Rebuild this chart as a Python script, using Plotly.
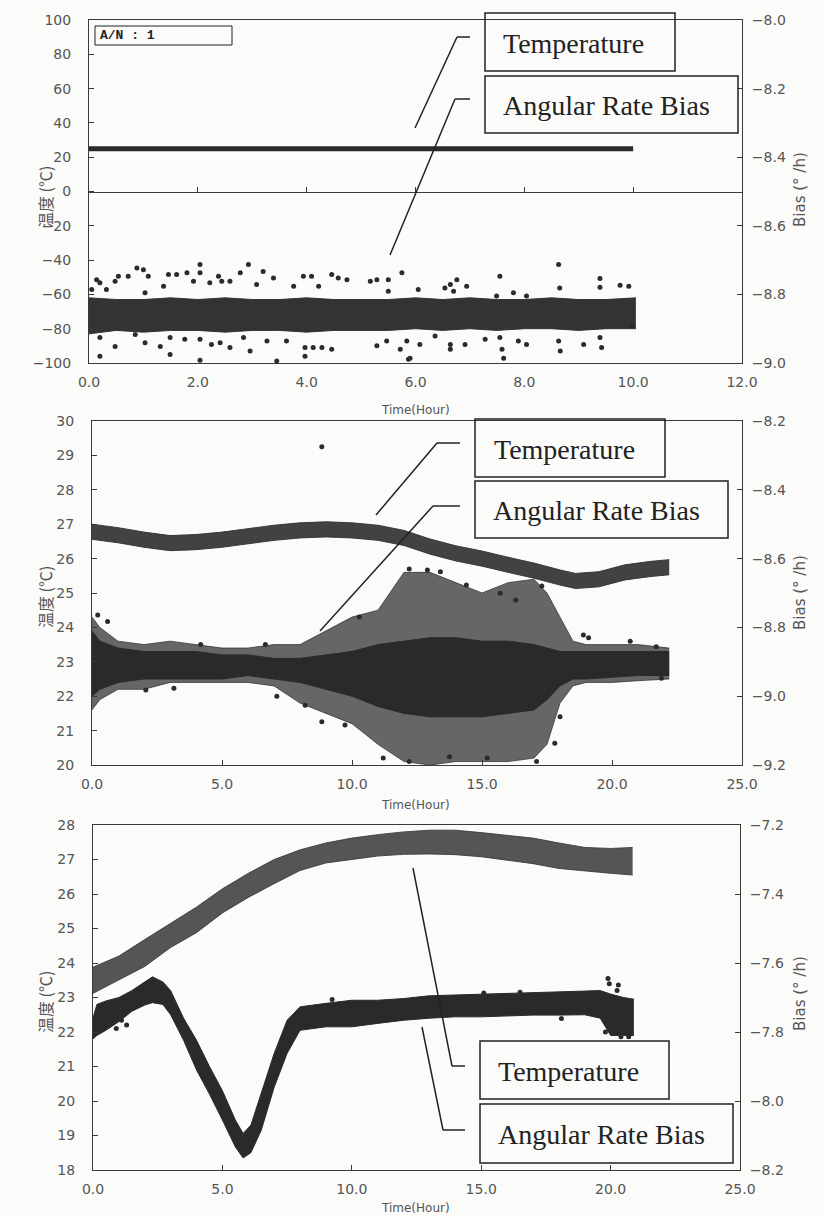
import plotly.graph_objects as go

W, H = 823, 1216

# ---------------- Panel 1 data ----------------
p1_temp_t = [0.0, 2.0, 4.0, 6.0, 8.0, 10.0]
p1_temp = [24.9, 24.9, 24.9, 24.9, 24.9, 24.9]

p1_band_t = [0, 0.5, 1, 1.5, 2, 2.5, 3, 3.5, 4, 4.5, 5, 5.5, 6, 6.5, 7, 7.5, 8, 8.5, 9, 9.5, 10.05]
p1_band_hi = [-8.81, -8.815, -8.815, -8.81, -8.815, -8.81, -8.815, -8.815, -8.81, -8.815, -8.815,
              -8.815, -8.81, -8.815, -8.81, -8.815, -8.815, -8.81, -8.815, -8.815, -8.81]
p1_band_lo = [-8.915, -8.905, -8.91, -8.905, -8.905, -8.91, -8.905, -8.905, -8.91, -8.905, -8.905,
              -8.905, -8.9, -8.905, -8.9, -8.905, -8.9, -8.9, -8.905, -8.9, -8.9]
p1_out_t = [0.05, 0.14, 0.2, 0.32, 0.48, 0.54, 0.72, 0.88, 1.0, 1.09, 1.03, 1.37, 1.46, 1.61, 1.8, 1.92,
            2.04, 2.04, 2.22, 2.38, 2.44, 2.59, 2.78, 2.93, 3.08, 3.2, 3.39, 3.76, 3.94, 4.09, 4.22,
            4.46, 4.58, 4.74, 5.17, 5.29, 5.5, 5.75, 5.5,
            0.2, 0.2, 0.48, 0.85, 1.03, 1.31, 1.49, 1.49, 1.76, 2.04, 2.04, 2.25, 2.41, 2.59, 2.84,
            2.96, 3.27, 3.45, 3.63, 3.97, 3.97, 4.12, 4.28, 4.46, 5.29, 5.47, 5.72, 5.87,
            6.05, 6.54, 6.64, 6.76, 6.7, 6.94, 7.55, 7.49, 7.8, 8.04, 8.63, 8.65, 9.39, 9.39, 9.76, 9.92,
            5.84, 6.08, 5.9, 6.36, 6.64, 6.64, 6.91, 7.28, 7.55, 7.59, 7.62, 7.89, 8.04, 8.63, 8.66,
            9.09, 9.39, 9.42, 9.98]
p1_out_b = [-8.786, -8.757, -8.766, -8.786, -8.762, -8.747, -8.747, -8.723, -8.728, -8.747, -8.795,
            -8.776, -8.742, -8.742, -8.737, -8.762, -8.737, -8.713, -8.766, -8.747, -8.762, -8.762,
            -8.737, -8.713, -8.771, -8.733, -8.752, -8.776, -8.747, -8.747, -8.776, -8.742, -8.752,
            -8.757, -8.762, -8.757, -8.757, -8.737, -8.791,
            -8.926, -8.980, -8.952, -8.917, -8.941, -8.952, -8.926, -8.975, -8.931, -8.992, -8.931,
            -8.946, -8.941, -8.955, -8.926, -8.965, -8.936, -8.994, -8.936, -8.955, -8.980, -8.955,
            -8.955, -8.960, -8.950, -8.936, -8.960, -8.989,
            -8.786, -8.781, -8.771, -8.757, -8.791, -8.776, -8.747, -8.805, -8.795, -8.805, -8.713,
            -8.781, -8.754, -8.779, -8.773, -8.776,
            -8.936, -8.946, -8.986, -8.921, -8.946, -8.960, -8.946, -8.931, -8.926, -8.960, -8.986,
            -8.936, -8.946, -8.936, -8.965, -8.946, -8.926, -8.955, -8.892]

# ---------------- Panel 2 data ----------------
p2_temp_t = [0, 1, 2, 3, 4, 5, 6, 7, 8, 9, 10, 11, 12, 13, 14, 15, 16, 17, 18, 18.6, 19.5, 20.5, 21.5, 22.2]
p2_temp_hi = [27.0, 26.9, 26.77, 26.67, 26.7, 26.77, 26.87, 26.97, 27.04, 27.07, 27.04, 26.97, 26.82,
              26.57, 26.37, 26.22, 26.04, 25.87, 25.67, 25.57, 25.62, 25.82, 25.92, 25.97]
p2_temp_lo = [26.56, 26.46, 26.33, 26.23, 26.26, 26.33, 26.43, 26.53, 26.6, 26.63, 26.6, 26.53, 26.38,
              26.13, 25.93, 25.78, 25.6, 25.43, 25.23, 25.13, 25.18, 25.38, 25.48, 25.53]
p2_temp_out_t = [8.84]
p2_temp_out = [29.25]

p2_bias_t = [0, 0.3, 1, 2, 3, 4, 5, 6, 7, 8, 9, 10, 11, 12, 13, 14, 15, 16, 17, 17.5, 18, 18.5, 19, 20, 21, 22.2]
p2_core_hi = [-8.81, -8.84, -8.86, -8.87, -8.87, -8.87, -8.88, -8.88, -8.89, -8.89, -8.88, -8.87, -8.85,
              -8.84, -8.83, -8.83, -8.84, -8.84, -8.85, -8.86, -8.87, -8.87, -8.87, -8.87, -8.87, -8.87]
p2_core_lo = [-9.00, -8.98, -8.96, -8.95, -8.95, -8.95, -8.95, -8.94, -8.95, -8.96, -8.98, -9.00, -9.03,
              -9.05, -9.06, -9.06, -9.06, -9.05, -9.04, -9.01, -8.97, -8.95, -8.95, -8.945, -8.94, -8.94]
p2_cloud_hi = [-8.77, -8.80, -8.84, -8.85, -8.84, -8.85, -8.86, -8.86, -8.85, -8.85, -8.81, -8.77, -8.75,
               -8.64, -8.64, -8.67, -8.70, -8.67, -8.66, -8.70, -8.77, -8.84, -8.85, -8.85, -8.85, -8.86]
p2_cloud_lo = [-9.04, -9.01, -8.98, -8.98, -8.96, -8.96, -8.96, -8.96, -8.97, -9.02, -9.05, -9.08, -9.14,
               -9.19, -9.20, -9.19, -9.19, -9.19, -9.18, -9.14, -9.02, -8.97, -8.96, -8.96, -8.955, -8.95]
p2_out_t = [0.22, 0.6, 0.05, 2.07, 3.15, 4.18, 6.67, 7.11, 8.2, 8.84, 9.73, 10.28, 11.2, 12.2,
            12.9, 13.4, 14.4, 15.7, 16.3, 17.3, 18.9, 19.1, 20.7, 21.7, 21.9,
            12.2, 13.75, 15.2, 17.1, 17.8, 18.0]
p2_out_b = [-8.764, -8.783, -8.86, -8.982, -8.977, -8.85, -8.85, -9.00, -9.026, -9.074, -9.084, -8.77,
            -9.18, -8.63, -8.633, -8.638, -8.677, -8.701, -8.72, -8.68, -8.822, -8.83, -8.84, -8.856,
            -8.948, -9.19, -9.176, -9.18, -9.19, -9.137, -9.06]

# ---------------- Panel 3 data ----------------
p3_temp_t = [0, 1, 2, 3, 4, 5, 6, 7, 8, 9, 10, 11, 12, 13, 14, 15, 16, 17, 18, 19, 20, 20.85]
p3_temp_hi = [23.88, 24.2, 24.68, 25.15, 25.62, 26.15, 26.6, 27.0, 27.28, 27.48, 27.62, 27.72, 27.8,
              27.85, 27.85, 27.78, 27.7, 27.62, 27.48, 27.35, 27.32, 27.35]
p3_temp_lo = [23.12, 23.5, 23.9, 24.45, 24.88, 25.45, 25.9, 26.3, 26.68, 26.9, 27.0, 27.1, 27.15,
              27.16, 27.14, 27.08, 26.98, 26.88, 26.74, 26.66, 26.6, 26.55]

p3_bias_t = [0, 0.15, 0.5, 1, 1.5, 2, 2.3, 2.7, 3, 3.5, 4, 4.5, 5, 5.5, 5.8, 6.1, 6.5, 7, 7.5, 8, 9, 10,
             11, 12, 13, 14, 15, 16, 17, 18, 19, 19.6, 20, 20.5, 20.9]
p3_bias_hi = [-7.76, -7.72, -7.71, -7.70, -7.68, -7.655, -7.64, -7.655, -7.68, -7.76, -7.824, -7.90,
              -7.97, -8.055, -8.094, -8.07, -7.98, -7.862, -7.766, -7.727, -7.717, -7.708, -7.708,
              -7.703, -7.695, -7.693, -7.69, -7.688, -7.686, -7.684, -7.682, -7.68, -7.69, -7.70, -7.705]
p3_bias_lo = [-7.82, -7.81, -7.795, -7.77, -7.74, -7.722, -7.715, -7.72, -7.75, -7.824, -7.91, -7.98,
              -8.055, -8.133, -8.165, -8.15, -8.085, -7.96, -7.862, -7.795, -7.785, -7.785, -7.775,
              -7.766, -7.76, -7.756, -7.756, -7.753, -7.751, -7.751, -7.75, -7.76, -7.81, -7.81, -7.81]
p3_out_t = [1.1, 0.9, 1.3, 15.1, 16.5, 18.1, 19.9, 19.95, 20.3, 20.25, 20.4, 20.7, 19.8, 9.24]
p3_out_b = [-7.766, -7.79, -7.78, -7.687, -7.685, -7.761, -7.645, -7.66, -7.664, -7.68, -7.814,
            -7.814, -7.80, -7.706]

# ---------------- tick labels ----------------
p1_x_ticks = [0, 2, 4, 6, 8, 10, 12]
p1_l_ticks = [-100, -80, -60, -40, -20, 0, 20, 40, 60, 80, 100]
p1_r_ticks = [-9.0, -8.8, -8.6, -8.4, -8.2, -8.0]
p2_x_ticks = [0, 5, 10, 15, 20, 25]
p2_l_ticks = list(range(20, 31))
p2_r_ticks = [-9.2, -9.0, -8.8, -8.6, -8.4, -8.2]
p3_x_ticks = [0, 5, 10, 15, 20, 25]
p3_l_ticks = list(range(18, 29))
p3_r_ticks = [-8.2, -8.0, -7.8, -7.6, -7.4, -7.2]


def PX(x):
    return x / W


def PY(y):
    return 1 - y / H


INK = '#2b2b2b'
fig = go.Figure()


def band(t, lo, hi, xa, ya, color):
    fig.add_trace(go.Scatter(x=t, y=lo, xaxis=xa, yaxis=ya, mode='lines',
                             line=dict(width=1, color=color), showlegend=False, hoverinfo='skip'))
    fig.add_trace(go.Scatter(x=t, y=hi, xaxis=xa, yaxis=ya, mode='lines',
                             line=dict(width=1, color=color), fill='tonexty', fillcolor=color,
                             showlegend=False, hoverinfo='skip'))


def dots(t, v, xa, ya, size=5, color=INK):
    fig.add_trace(go.Scatter(x=t, y=v, xaxis=xa, yaxis=ya, mode='markers',
                             marker=dict(size=size, color=color, line=dict(width=0)),
                             showlegend=False, hoverinfo='skip'))


# Panel 1
fig.add_trace(go.Scatter(x=p1_temp_t, y=p1_temp, xaxis='x', yaxis='y', mode='lines',
                         line=dict(width=5, color=INK), showlegend=False))
band(p1_band_t, p1_band_lo, p1_band_hi, 'x', 'y2', '#333333')
dots(p1_out_t, p1_out_b, 'x', 'y2')
fig.add_trace(go.Scatter(x=[0, 12], y=[0, 0], xaxis='x4', yaxis='y', mode='lines',
                         line=dict(width=0), showlegend=False, hoverinfo='skip'))

# Panel 2
band(p2_temp_t, p2_temp_lo, p2_temp_hi, 'x2', 'y3', 'rgba(50,50,50,0.92)')
dots(p2_temp_out_t, p2_temp_out, 'x2', 'y3', size=5)
band(p2_bias_t, p2_cloud_lo, p2_cloud_hi, 'x2', 'y4', 'rgba(45,45,45,0.72)')
band(p2_bias_t, p2_core_lo, p2_core_hi, 'x2', 'y4', '#2a2a2a')
dots(p2_out_t, p2_out_b, 'x2', 'y4')

# Panel 3
band(p3_temp_t, p3_temp_lo, p3_temp_hi, 'x3', 'y5', 'rgba(55,55,55,0.85)')
band(p3_bias_t, p3_bias_lo, p3_bias_hi, 'x3', 'y6', '#2a2a2a')
dots(p3_out_t, p3_out_b, 'x3', 'y6')

TF = dict(family='DejaVu Sans', size=14, color='#555555')
LINE = '#3a3a3a'


def xax(dom, anchor, rng, tv, fmt, ticks):
    return dict(domain=dom, anchor=anchor, range=rng, tickvals=tv, tickformat=fmt,
                showline=True, mirror=True, linecolor=LINE, linewidth=1, showgrid=False,
                zeroline=False, ticks=ticks, ticklen=5, tickcolor=LINE, tickfont=TF,
                ticklabelstandoff=6, fixedrange=True, automargin=False)


def yax(dom, anchor, rng, tv, fmt):
    return dict(domain=dom, anchor=anchor, range=rng, tickvals=tv, tickformat=fmt,
                showline=True, mirror=True, linecolor=LINE, linewidth=1, showgrid=False,
                zeroline=False, ticks='inside', ticklen=5, tickcolor=LINE, tickfont=TF,
                ticklabelstandoff=14, fixedrange=True, automargin=False)


def y2ax(over, anchor, rng, tv, fmt):
    return dict(overlaying=over, side='right', anchor=anchor, range=rng, tickvals=tv,
                tickformat=fmt, showline=True, linecolor=LINE, linewidth=1, showgrid=False,
                zeroline=False, ticks='inside', ticklen=5, tickcolor=LINE, tickfont=TF,
                ticklabelstandoff=6, fixedrange=True, automargin=False)


d1y = [PY(363), PY(20)]
d2y = [PY(765), PY(421)]
d3y = [PY(1170), PY(825)]

fig.update_layout(
    width=W, height=H, margin=dict(l=0, r=0, t=0, b=0, autoexpand=False),
    paper_bgcolor='#fbfbfa', plot_bgcolor='#fbfbfa',
    xaxis=xax([PX(89), PX(742)], 'y', [0, 12], p1_x_ticks, '.1f', ''),
    yaxis=yax(d1y, 'x', [-100, 100], p1_l_ticks, 'd'),
    yaxis2=y2ax('y', 'x', [-9.0, -8.0], p1_r_ticks, '.1f'),
    xaxis4=dict(overlaying='x', anchor='free', position=(d1y[0] + d1y[1]) / 2, range=[0, 12],
                tickvals=p1_x_ticks, showticklabels=False, ticks='inside', ticklen=5,
                tickcolor=LINE, showline=True, linecolor=LINE, linewidth=1, showgrid=False,
                zeroline=False, fixedrange=True, automargin=False),
    xaxis2=xax([PX(92), PX(742)], 'y3', [0, 25], p2_x_ticks, '.1f', 'inside'),
    yaxis3=yax(d2y, 'x2', [20, 30], p2_l_ticks, 'd'),
    yaxis4=y2ax('y3', 'x2', [-9.2, -8.2], p2_r_ticks, '.1f'),
    xaxis3=xax([PX(93), PX(740)], 'y5', [0, 25], p3_x_ticks, '.1f', 'inside'),
    yaxis5=yax(d3y, 'x3', [18, 28], p3_l_ticks, 'd'),
    yaxis6=y2ax('y5', 'x3', [-8.2, -7.2], p3_r_ticks, '.1f'),
)

ann = []
shapes = []
SERIF = dict(family='Liberation Serif', size=28, color='#222222')


def rect(x0, y0, x1, y1, w=1.5):
    shapes.append(dict(type='rect', xref='paper', yref='paper', x0=PX(x0), x1=PX(x1),
                       y0=PY(y1), y1=PY(y0), line=dict(color='#222222', width=w)))


def seg(x0, y0, x1, y1):
    shapes.append(dict(type='line', xref='paper', yref='paper', x0=PX(x0), y0=PY(y0),
                       x1=PX(x1), y1=PY(y1), line=dict(color='#222222', width=1.5)))


def label(text, x, y, font=SERIF, anchor='left'):
    ann.append(dict(text=text, x=PX(x), y=PY(y), xref='paper', yref='paper', xanchor=anchor,
                    yanchor='middle', showarrow=False, font=font))


# Panel 1 callouts
rect(485, 13, 675, 71); label('Temperature', 501, 43)
rect(485, 76, 738, 133); label('Angular Rate Bias', 501, 105)
seg(470, 37, 457, 37); seg(457, 37, 415, 128)
seg(470, 99, 455, 99); seg(455, 99, 390, 255)
rect(95, 26, 232, 45, w=1)
label('<b>A/N : 1</b>', 98, 36, font=dict(family='Liberation Mono', size=13, color='#222222'))

# Panel 2 callouts
rect(475, 419, 665, 477); label('Temperature', 492, 449)
rect(475, 481, 728, 538); label('Angular Rate Bias', 491, 511)
seg(460, 443, 437, 443); seg(437, 443, 376, 515)
seg(460, 506, 433, 506); seg(433, 506, 320, 631)

# Panel 3 callouts
rect(480, 1041, 669, 1099); label('Temperature', 496, 1071)
rect(480, 1104, 733, 1163); label('Angular Rate Bias', 496, 1134)
seg(465, 1066, 452, 1066); seg(452, 1066, 413, 868)
seg(465, 1130, 443, 1130); seg(443, 1130, 422, 1027)

# axis titles
LT = dict(family='Noto Sans CJK JP', size=16, color='#555555')
RT = dict(family='DejaVu Sans', size=15, color='#555555')
XT = dict(family='DejaVu Sans', size=12, color='#555555')
for (yc, yr, xt) in [(197, 190, 410), (597, 593, 805), (1002, 994, 1208)]:
    ann.append(dict(text='温度 (℃)', x=PX(45), y=PY(yc), xref='paper', yref='paper',
                    textangle=-90, showarrow=False, font=LT, xanchor='center', yanchor='middle'))
    ann.append(dict(text='Bias (° /h)', x=PX(800), y=PY(yr), xref='paper', yref='paper',
                    textangle=-90, showarrow=False, font=RT, xanchor='center', yanchor='middle'))
    ann.append(dict(text='Time(Hour)', x=PX(415), y=PY(xt), xref='paper', yref='paper',
                    showarrow=False, font=XT, xanchor='center', yanchor='middle'))

fig.update_layout(annotations=ann, shapes=shapes)
fig.write_html('out.html', config={'displayModeBar': False},
               post_script="document.body.style.margin='0';document.body.style.overflow='hidden';")
